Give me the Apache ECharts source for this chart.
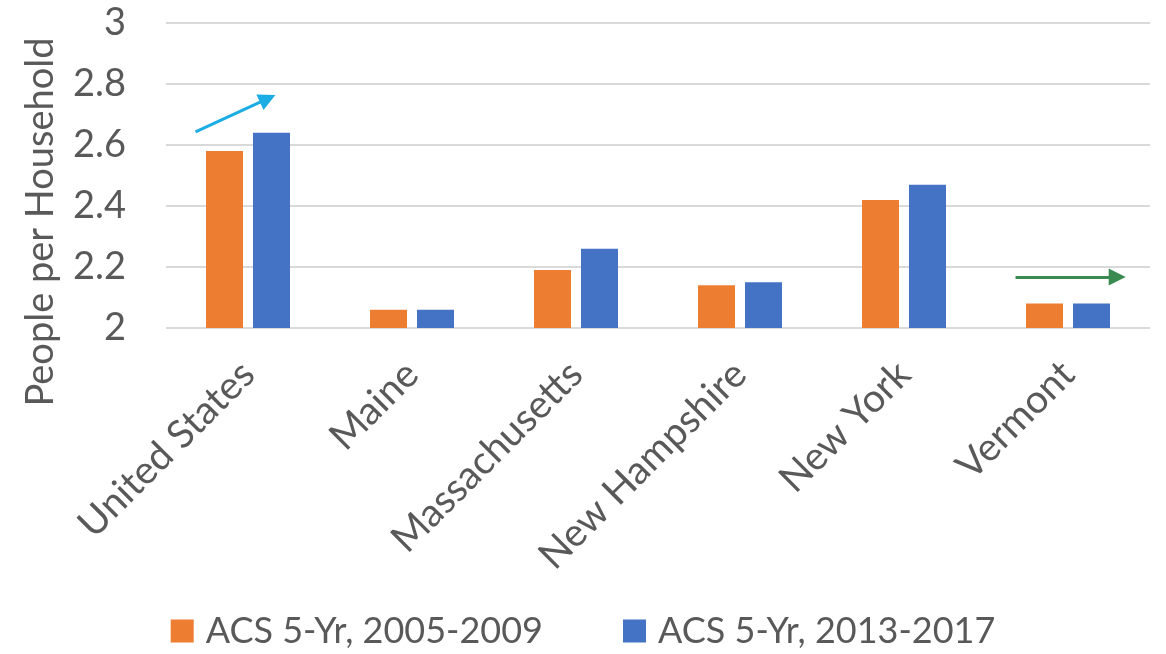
<!DOCTYPE html>
<html>
<head>
<meta charset="utf-8">
<script src="https://cdn.jsdelivr.net/npm/echarts@6/dist/echarts.min.js"></script>
<style>
  html, body { margin: 0; padding: 0; background: #fff; }
  #chart { width: 1166px; height: 654px; }
</style>
</head>
<body>
<div id="chart"></div>
<script>
// 图表数据
const states = ['United States', 'Maine', 'Massachusetts', 'New Hampshire', 'New York', 'Vermont'];
const acs0509 = [2.58, 2.06, 2.19, 2.14, 2.42, 2.08];
const acs1317 = [2.64, 2.06, 2.26, 2.15, 2.47, 2.08];
const seriesNames = ['ACS 5-Yr, 2005-2009', 'ACS 5-Yr, 2013-2017'];

// 箭头注释 (类目索引, 数值)
const upArrow = [[-0.32, 2.643], [0.12, 2.752]];
const flatArrow = [[4.68, 2.167], [5.30, 2.167]];

const font = 'Lato, "Open Sans", sans-serif';
const textColor = '#595959';

const chartObj = echarts.init(document.getElementById('chart'));

function arrowLine(color) {
    return {
        silent: true,
        symbol: ['none', 'triangle'],
        symbolSize: [17, 17],
        label: { show: false },
        lineStyle: { color: color, width: 3, type: 'solid' },
        data: []
    };
}

chartObj.setOption({
    animation: false,
    grid: {
        left: 166,
        right: 16,
        top: 23,
        bottom: 326
    },
    legend: {
        bottom: 0,
        left: 'center',
        itemWidth: 23,
        itemHeight: 23,
        itemGap: 80,
        icon: 'rect',
        textStyle: {
            fontFamily: font,
            fontSize: 36,
            color: textColor,
            padding: [0, 0, 0, 7]
        },
        data: seriesNames
    },
    xAxis: {
        type: 'category',
        data: states,
        axisLine: { show: false },
        axisTick: { show: false },
        axisLabel: {
            rotate: 45,
            interval: 0,
            margin: 40,
            fontFamily: font,
            fontSize: 39,
            color: textColor
        }
    },
    yAxis: {
        type: 'value',
        min: 2,
        max: 3,
        interval: 0.2,
        axisLabel: {
            margin: 40,
            fontFamily: font,
            fontSize: 38,
            color: textColor,
            formatter: v => String(+v.toFixed(1))
        },
        splitLine: {
            lineStyle: { color: '#D9D9D9', width: 2 }
        }
    },
    graphic: [{
        type: 'text',
        x: 41,
        y: 222,
        rotation: Math.PI / 2,
        style: {
            text: 'People per Household',
            font: '38px ' + font,
            fill: textColor,
            align: 'center',
            verticalAlign: 'middle'
        }
    }],
    series: [
        {
            name: seriesNames[0],
            type: 'bar',
            data: acs0509,
            barWidth: 37,
            barGap: '27%',
            itemStyle: { color: '#ED7D31' },
            markLine: arrowLine('#1BADE3')
        },
        {
            name: seriesNames[1],
            type: 'bar',
            data: acs1317,
            barWidth: 37,
            barGap: '27%',
            itemStyle: { color: '#4472C4' },
            markLine: arrowLine('#3A8A52')
        }
    ]
});

// 类目轴上小数索引 -> 像素 (线性插值)
function toPixel(pt) {
    const a = chartObj.convertToPixel({ gridIndex: 0 }, [0, pt[1]]);
    const b = chartObj.convertToPixel({ gridIndex: 0 }, [1, pt[1]]);
    const step = b[0] - a[0];
    return { x: a[0] + pt[0] * step, y: a[1] };
}

chartObj.setOption({
    series: [
        { markLine: { data: [[toPixel(upArrow[0]), toPixel(upArrow[1])]] } },
        { markLine: { data: [[toPixel(flatArrow[0]), toPixel(flatArrow[1])]] } }
    ]
});
</script>
</body>
</html>
